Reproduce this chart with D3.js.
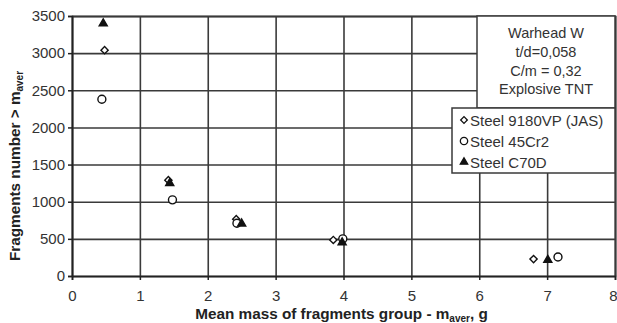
<!DOCTYPE html>
<html>
<head>
<meta charset="utf-8">
<script src="https://cdn.jsdelivr.net/npm/d3@7"></script>
<style>
  body { margin: 0; background: #fff; }
  text { font-family: "Liberation Sans", Arial, sans-serif; }
</style>
</head>
<body>
<div id="main"></div>
<script>
// DATA
const seriesNames = ["Steel 9180VP (JAS)", "Steel 45Cr2", "Steel C70D"]
const steel9180 = [[0.48, 3040], [1.42, 1290], [2.42, 765], [3.85, 485], [6.8, 228]]
const steel45 = [[0.44, 2380], [1.48, 1025], [2.43, 710], [3.99, 500], [7.16, 255]]
const steelC70 = [[0.46, 3400], [1.44, 1250], [2.5, 705], [3.98, 450], [7.01, 215]]
const xTicks = [0, 1, 2, 3, 4, 5, 6, 7, 8]
const yTicks = [0, 500, 1000, 1500, 2000, 2500, 3000, 3500]
const noteLines = ["Warhead W", "t/d=0,058", "C/m = 0,32", "Explosive TNT"]

// SETUP
const width = 617, height = 323
const pLeft = 72, pRight = 615, pTop = 16, pBottom = 276
const ink = '#222'
const gridColor = '#3a3a3a'

const x = d3.scaleLinear().domain([0, 8]).range([pLeft, pRight])
const y = d3.scaleLinear().domain([0, 3500]).range([pBottom, pTop])

const svg = d3.select("#main").append("svg")
  .attr("width", width)
  .attr("height", height)

// grid (via axes with long ticks)
const xGrid = svg.append("g")
  .attr("transform", `translate(0,${pTop})`)
  .call(d3.axisTop(x).tickValues(xTicks).tickSize(-(pBottom - pTop)).tickFormat(""))
const yGrid = svg.append("g")
  .attr("transform", `translate(${pRight},0)`)
  .call(d3.axisRight(y).tickValues(yTicks).tickSize(-(pRight - pLeft)).tickFormat(""))
for (const g of [xGrid, yGrid]) {
  g.select(".domain").attr("stroke", gridColor).attr("stroke-width", 1.6)
  g.selectAll(".tick line").attr("stroke", gridColor).attr("stroke-width", 1.6)
}

// axes
const xAxis = svg.append("g")
  .attr("transform", `translate(0,${pBottom})`)
  .call(d3.axisBottom(x).tickValues(xTicks).tickSize(4).tickPadding(10))
const yAxis = svg.append("g")
  .attr("transform", `translate(${pLeft},0)`)
  .call(d3.axisLeft(y).tickValues(yTicks).tickFormat(d3.format("d")).tickSize(4).tickPadding(3))

for (const a of [xAxis, yAxis]) {
  a.select(".domain").attr("stroke", ink).attr("stroke-width", 1.6)
  a.selectAll(".tick line").attr("stroke", ink).attr("stroke-width", 1.5)
  a.selectAll(".tick text")
    .attr("fill", "#333")
    .style("font-size", "15px")
    .style("font-family", '"Liberation Sans", Arial, sans-serif')
}
xAxis.selectAll(".tick text").filter(d => d == 8).attr("text-anchor", "end").attr("dx", 2)

// note box
svg.append("rect")
  .attr("x", 477).attr("y", pTop)
  .attr("width", pRight - 477).attr("height", 108 - pTop)
  .attr("fill", "#fff").attr("stroke", gridColor).attr("stroke-width", 1.5)

svg.append("g").selectAll("text")
  .data(noteLines)
  .enter().append("text")
    .attr("x", 546)
    .attr("y", (d, i) => 38 + i * 18.8)
    .attr("text-anchor", "middle")
    .attr("fill", "#333")
    .style("font-size", "14.5px")
    .text(d => d)

// markers
const symbols = [d3.symbolSquare, d3.symbolCircle, d3.symbolTriangle]
const sizes = [26, 50, 28]
const fills = ["#fff", "#fff", "#111"]
const turn = i => i == 0 ? " rotate(45)" : ""

function drawSeries(data, i) {
  svg.append("g").selectAll("path")
    .data(data)
    .enter().append("path")
      .attr("transform", d => `translate(${x(d[0])},${y(d[1])})` + turn(i))
      .attr("d", d3.symbol().type(symbols[i]).size(sizes[i]))
      .attr("fill", fills[i])
      .attr("stroke", "#111")
      .attr("stroke-width", 1.4)
}
drawSeries(steel9180, 0)
drawSeries(steel45, 1)
drawSeries(steelC70, 2)

// legend
const legend = svg.append("g")
legend.append("rect")
  .attr("x", 452).attr("y", 108)
  .attr("width", pRight - 452).attr("height", 65)
  .attr("fill", "#fff").attr("stroke", gridColor).attr("stroke-width", 1.5)

seriesNames.forEach((name, i) => {
  const cy = 120 + i * 21
  legend.append("path")
    .attr("transform", `translate(464,${cy})` + turn(i))
    .attr("d", d3.symbol().type(symbols[i]).size(sizes[i] * 0.85))
    .attr("fill", fills[i]).attr("stroke", "#111").attr("stroke-width", 1.3)
  legend.append("text")
    .attr("x", 470).attr("y", cy + 5.5)
    .attr("fill", "#333")
    .style("font-size", "15px")
    .text(name)
})

// axis titles
const xt = svg.append("text")
  .attr("x", x(4) - 2).attr("y", 319)
  .attr("text-anchor", "middle")
  .attr("fill", "#222")
  .style("font-size", "15.3px").style("font-weight", "bold")
xt.append("tspan").text("Mean mass of fragments group - m")
xt.append("tspan").text("aver").attr("dy", 3).style("font-size", "10px")
xt.append("tspan").text(", g").attr("dy", -3)

const yt = svg.append("text")
  .attr("transform", `translate(20,${(pTop + pBottom) / 2 + 20}) rotate(-90)`)
  .attr("text-anchor", "middle")
  .attr("fill", "#222")
  .style("font-size", "15.3px").style("font-weight", "bold")
yt.append("tspan").text("Fragments number > m")
yt.append("tspan").text("aver").attr("dy", 3).style("font-size", "10px")
</script>
</body>
</html>
